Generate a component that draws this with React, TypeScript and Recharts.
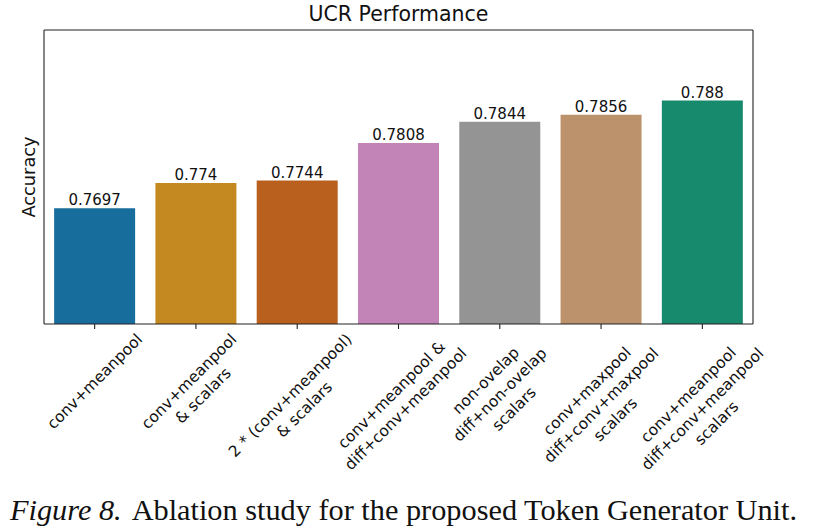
import { Bar, BarChart, Cell, LabelList, XAxis, YAxis } from "recharts";

const variants = [
  "conv+meanpool",
  "conv+meanpool\n& scalars",
  "2 * (conv+meanpool)\n& scalars",
  "conv+meanpool &\ndiff+conv+meanpool",
  "non-ovelap\ndiff+non-ovelap\nscalars",
  "conv+maxpool\ndiff+conv+maxpool\nscalars",
  "conv+meanpool\ndiff+conv+meanpool\nscalars",
];
const accuracy = [0.7697, 0.774, 0.7744, 0.7808, 0.7844, 0.7856, 0.788];
const barColors = [
  "#176d9c",
  "#c48921",
  "#b9601e",
  "#c283b6",
  "#949494",
  "#bc926d",
  "#17896d",
];

const data = variants.map((variant, i) => ({ variant, accuracy: accuracy[i] }));

const FONT = '"DejaVu Sans", sans-serif';
const TICK_FONT = 15.5;
const LINE_H = 20;
const SPINE = "#222";

let ctx: CanvasRenderingContext2D | null = null;
function textWidth(s: string) {
  if (!ctx) ctx = document.createElement("canvas").getContext("2d");
  if (!ctx) return s.length * TICK_FONT * 0.6;
  ctx.font = `${TICK_FONT}px "DejaVu Sans"`;
  return ctx.measureText(s).width;
}

// matplotlib-style rotated tick: rotated block's bounding box centred under the tick
function SlantedTick({ x, y, payload }: any) {
  const lines = String(payload.value).split("\n");
  const w = Math.max(...lines.map(textWidth));
  const h = (lines.length - 1) * LINE_H + 1.164 * TICK_FONT;
  const half = (w + h) / (2 * Math.SQRT2);
  return (
    <g transform={`translate(${x},${y - 1 + half}) rotate(-45)`}>
      {lines.map((line, i) => (
        <text
          key={i}
          x={0}
          y={-h / 2 + i * LINE_H + 0.928 * TICK_FONT}
          textAnchor="middle"
          fontFamily={FONT}
          fontSize={TICK_FONT}
          fill="#111"
        >
          {line}
        </text>
      ))}
    </g>
  );
}

function YTitle({ viewBox }: any) {
  const cx = viewBox.x + viewBox.width - 9.5;
  const cy = viewBox.y + viewBox.height / 2;
  return (
    <text
      x={cx}
      y={cy}
      transform={`rotate(-90 ${cx} ${cy})`}
      textAnchor="middle"
      fontFamily={FONT}
      fontSize={17.8}
      fill="#111"
    >
      Accuracy
    </text>
  );
}

export default function App() {
  return (
    <div
      style={{
        position: "absolute",
        left: 0,
        top: 0,
        width: 813,
        height: 531,
        background: "#fff",
        fontFamily: FONT,
      }}
    >
      <div
        style={{
          position: "absolute",
          left: 44,
          width: 709,
          top: 0,
          textAlign: "center",
          fontSize: 20.5,
          lineHeight: "28px",
          color: "#111",
        }}
      >
        UCR Performance
      </div>
      <BarChart
        width={813}
        height={480}
        data={data}
        margin={{ top: 29, right: 59, bottom: 0, left: 43 }}
        barCategoryGap="10%"
      >
        <XAxis
          dataKey="variant"
          height={156}
          interval={0}
          tick={<SlantedTick />}
          tickSize={5}
          tickLine={{ stroke: SPINE, strokeWidth: 1.1 }}
          axisLine={{ stroke: SPINE, strokeWidth: 1.1 }}
        />
        <XAxis
          xAxisId="frame"
          dataKey="variant"
          orientation="top"
          height={1}
          tick={false}
          tickLine={false}
          axisLine={{ stroke: SPINE, strokeWidth: 1.1 }}
        />
        <YAxis
          type="number"
          domain={[0.75, 0.8]}
          allowDataOverflow
          width={1}
          tick={false}
          tickLine={false}
          axisLine={{ stroke: SPINE, strokeWidth: 1.1 }}
          label={<YTitle />}
        />
        <YAxis
          yAxisId="frame"
          orientation="right"
          type="number"
          domain={[0, 1]}
          width={1}
          tick={false}
          tickLine={false}
          axisLine={{ stroke: SPINE, strokeWidth: 1.1 }}
        />
        <Bar dataKey="accuracy" isAnimationActive={false}>
          {data.map((d, i) => (
            <Cell key={d.variant} fill={barColors[i]} />
          ))}
          <LabelList
            dataKey="accuracy"
            position="top"
            offset={3}
            fill="#111"
            fontSize={15}
            fontFamily={FONT}
          />
        </Bar>
      </BarChart>
      <div
        style={{
          position: "absolute",
          left: 10,
          top: 490,
          fontFamily: '"Liberation Serif", "Times New Roman", serif',
          fontSize: 30.3,
          lineHeight: "40px",
          color: "#111",
          whiteSpace: "nowrap",
        }}
      >
        <i style={{ marginRight: 10 }}>Figure 8.</i>
        Ablation study for the proposed Token Generator Unit.
      </div>
    </div>
  );
}
